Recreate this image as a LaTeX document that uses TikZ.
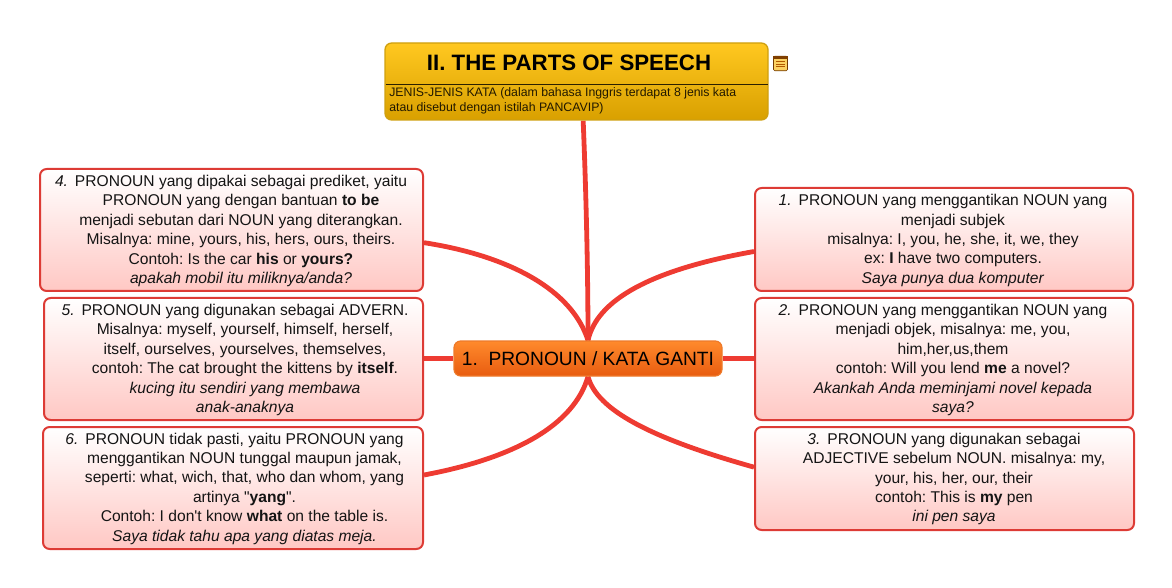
\documentclass[tikz,border=0pt]{standalone}
\usepackage{fontspec}
\setmainfont[Ligatures=TeXOff]{Liberation Sans}
\usetikzlibrary{backgrounds}
\definecolor{linkred}{HTML}{EE3B32}
\definecolor{boxline}{HTML}{DD3B35}
\definecolor{boxbottom}{HTML}{FFC8C4}
\definecolor{goldtop}{HTML}{FFC820}
\definecolor{goldbot}{HTML}{D9A000}
\definecolor{goldline}{HTML}{CFA010}
\definecolor{oratop}{HTML}{FF8A2C}
\definecolor{orabot}{HTML}{E85C10}
\definecolor{oraline}{HTML}{EE7A2A}
\tikzset{
  x=0.75pt,y=-0.75pt,
  pbox/.style={draw=boxline,line width=1.5pt,rounded corners=5pt,top color=white,bottom color=boxbottom,inner sep=0pt},
  ptext/.style={align=center,inner sep=0pt,text=black!92,font=\fontsize{11.7}{14.55}\selectfont\frenchspacing},
  link/.style={draw=linkred,line width=3.6pt},
  mainbox/.style={draw=oraline,line width=0.9pt,rounded corners=5pt,top color=oratop,bottom color=orabot,inner sep=0pt,align=center,font=\fontsize{14.4}{18}\selectfont},
  topbox/.style={draw=goldline,line width=1pt,rounded corners=5pt,top color=goldtop,bottom color=goldbot,inner sep=0pt},
}
\newcommand{\numb}[1]{\llap{\textit{#1}\hspace{5.2pt}}}
\begin{document}
\begin{tikzpicture}
\useasboundingbox (0,0) rectangle (1172,588);
\node[topbox,minimum width=287.25pt,minimum height=57.75pt] (top) at (576.5,81.5) {};
\node[inner sep=0pt,font=\fontsize{16.7}{20}\selectfont\bfseries] (title) at (569,63) {II. THE PARTS OF SPEECH};
\coordinate (sepL) at (385.5,84);
\coordinate (sepR) at (768,84);
\draw[line width=0.7pt,black!80!goldbot] (sepL) -- (sepR);
\node[inner sep=0pt,align=left,anchor=west,text=black!85!goldbot,font=\fontsize{9.23}{11.2}\selectfont] (sub) at (389,100.5) {JENIS-JENIS KATA (dalam bahasa Inggris terdapat 8 jenis kata\\atau disebut dengan istilah PANCAVIP)};
% note icon
\node[draw=black!55!orange,line width=0.5pt,rounded corners=1pt,fill=yellow!45!orange!60!white,minimum width=10.5pt,minimum height=11pt,inner sep=0pt] (icon) at (780.5,63.5) {};
\fill[black!50!orange] (icon.north west) rectangle ([yshift=-2.2pt]icon.north east);
\draw[orange!70!black,line width=0.4pt] ([xshift=2pt,yshift=-4.2pt]icon.north west) -- ([xshift=-2pt,yshift=-4.2pt]icon.north east);
\draw[orange!70!black,line width=0.4pt] ([xshift=2pt,yshift=-6pt]icon.north west) -- ([xshift=-2pt,yshift=-6pt]icon.north east);
\draw[orange!70!black,line width=0.4pt] ([xshift=2pt,yshift=-7.8pt]icon.north west) -- ([xshift=-2pt,yshift=-7.8pt]icon.north east);

\node[mainbox,minimum width=201pt,minimum height=26.25pt] (main) at (588,358.5) {1.\hspace{0.55em}PRONOUN / KATA GANTI};

% left boxes
\node[pbox,minimum width=287.25pt,minimum height=91.5pt] (n4) at (231.5,230) {};
\node[ptext] (t4) at (241,231) {\numb{4.}PRONOUN yang dipakai sebagai prediket, yaitu\\PRONOUN yang dengan bantuan \textbf{to be}\\menjadi sebutan dari NOUN yang diterangkan.\\Misalnya: mine, yours, his, hers, ours, theirs.\\Contoh: Is the car \textbf{his} or \textbf{yours?}\\\textit{apakah mobil itu miliknya/anda?}};
\node[pbox,minimum width=284.25pt,minimum height=91.5pt] (n5) at (233.5,359) {};
\node[ptext] (t5) at (245,360) {\numb{5.}PRONOUN yang digunakan sebagai ADVERN.\\Misalnya: myself, yourself, himself, herself,\\itself, ourselves, yourselves, themselves,\\contoh: The cat brought the kittens by \textbf{itself}.\\\textit{kucing itu sendiri yang membawa}\\\textit{anak-anaknya}};
\node[pbox,minimum width=285pt,minimum height=91.5pt] (n6) at (233,488) {};
\node[ptext] (t6) at (244.5,488.5) {\numb{6.}PRONOUN tidak pasti, yaitu PRONOUN yang\\menggantikan NOUN tunggal maupun jamak,\\seperti: what, wich, that, who dan whom, yang\\artinya "\textbf{yang}".\\Contoh: I don't know \textbf{what} on the table is.\\\textit{Saya tidak tahu apa yang diatas meja.}};

% right boxes
\node[pbox,minimum width=283.5pt,minimum height=77.25pt] (n1) at (944,239.5) {};
\node[ptext] (t1) at (953,240.5) {\numb{1.}PRONOUN yang menggantikan NOUN yang\\menjadi subjek\\misalnya: I, you, he, she, it, we, they\\ex: \textbf{I} have two computers.\\\textit{Saya punya dua komputer}};
\node[pbox,minimum width=283.5pt,minimum height=91.5pt] (n2) at (944,359) {};
\node[ptext] (t2) at (953,360) {\numb{2.}PRONOUN yang menggantikan NOUN yang\\menjadi objek, misalnya: me, you,\\him,her,us,them\\contoh: Will you lend \textbf{me} a novel?\\\textit{Akankah Anda meminjami novel kepada}\\\textit{saya?}};
\node[pbox,minimum width=284.25pt,minimum height=77.25pt] (n3) at (944.5,478.5) {};
\node[ptext] (t3) at (954,479) {\numb{3.}PRONOUN yang digunakan sebagai\\ADJECTIVE sebelum NOUN. misalnya: my,\\your, his, her, our, their\\contoh: This is \textbf{my} pen\\\textit{ini pen saya}};

\begin{scope}[on background layer]
\draw[link] (main.north) .. controls (588,270) and (586,190) .. ([xshift=5pt]top.south);
\draw[link] (main.north) .. controls (572,290) and (510,256) .. ([yshift=-9.5pt]n4.east);
\draw[link] (main.north) .. controls (597,300) and (650,270) .. ([yshift=-9pt]n1.west);
\draw[link] (main.west) -- (main.west -| n5.east);
\draw[link] (main.east) -- (main.east -| n2.west);
\draw[link] (main.south) .. controls (574,425) and (515,458) .. ([yshift=9.75pt]n6.east);
\draw[link] (main.south) .. controls (597,410) and (650,438) .. ([yshift=8.5pt]n3.west);
\end{scope}
\end{tikzpicture}
\end{document}
